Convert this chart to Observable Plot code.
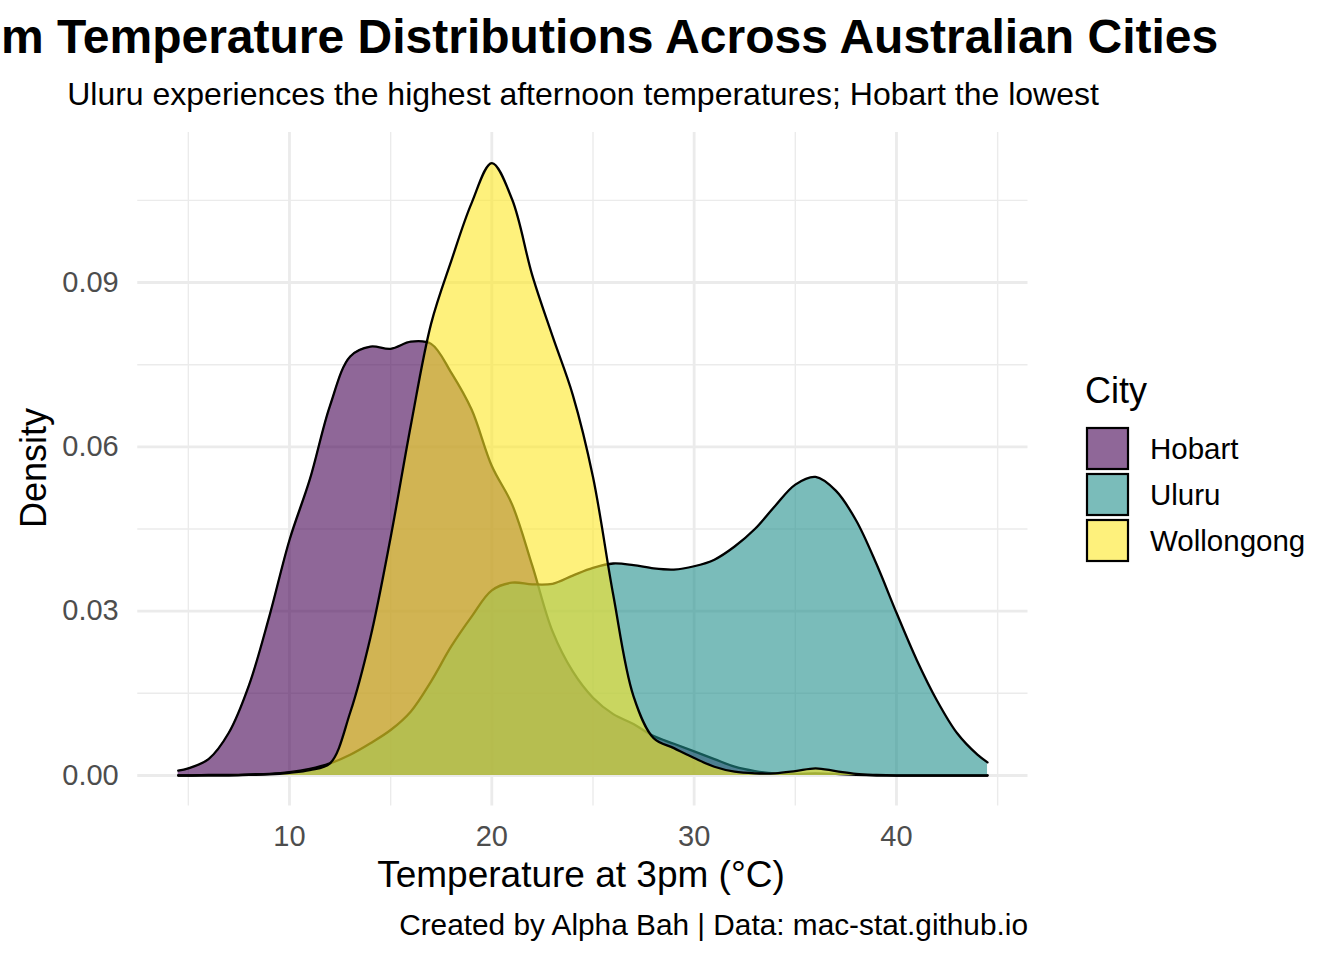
<!DOCTYPE html>
<html><head><meta charset="utf-8">
<script src="https://cdn.jsdelivr.net/npm/d3@7"></script>
<script src="https://cdn.jsdelivr.net/npm/@observablehq/plot@0.6"></script>
<style>
body{margin:0;background:#fff;}
#wrap{position:relative;width:1344px;height:960px;overflow:hidden;background:#fff;}
#wrap svg{position:absolute;left:0;top:0;}
</style></head><body><div id="wrap"></div>
<script>
// ---- data ----
const temps = [4.5,5,6,7,8,9,10,11,12,13,14,15,16,17,18,19,20,21,22,23,24,25,26,27,28,29,30,31,32,33,34,35,36,37,38,39,40,41,42,43,44,44.5];
const hobart = [0.0009,0.0013,0.0030,0.0078,0.0165,0.0290,0.0430,0.0540,0.0675,0.0765,0.0783,0.0779,0.0792,0.0788,0.0735,0.0668,0.0565,0.0495,0.0383,0.0263,0.0190,0.0142,0.0112,0.0094,0.0072,0.0058,0.0044,0.0030,0.0016,0.0008,0.0004,0.0003,0.0004,0.0003,0.0001,0,0,0,0,0,0,0];
const uluru = [0,0,0.0001,0.0001,0.0002,0.0003,0.0006,0.0012,0.0022,0.0038,0.0059,0.0083,0.0117,0.0172,0.0236,0.0290,0.0338,0.0352,0.0349,0.0350,0.0365,0.0379,0.0387,0.0384,0.0378,0.0376,0.0382,0.0394,0.0418,0.0450,0.0492,0.0531,0.0545,0.0520,0.0466,0.0387,0.0297,0.0211,0.0137,0.0077,0.0038,0.0024];
const wollongong = [0,0,0,0,0.0001,0.0002,0.0005,0.0010,0.0022,0.0115,0.0252,0.0435,0.0640,0.0825,0.0940,0.1045,0.1118,0.1052,0.0913,0.0802,0.0695,0.0545,0.0330,0.0145,0.0068,0.0050,0.0032,0.0016,0.0007,0.0004,0.0004,0.0008,0.0013,0.0008,0.0003,0.0001,0,0,0,0,0,0];
const cities = ["Hobart","Uluru","Wollongong"];
const cityColors = ["#440154","#21908C","#FDE725"];
const xTicks = [10,20,30,40];
const xMinor = [5,15,25,35,45];
const yTicks = [0,0.03,0.06,0.09];
const yMinor = [0.015,0.045,0.075,0.105];

const series = {Hobart: hobart, Uluru: uluru, Wollongong: wollongong};
const rows = cities.flatMap(c => temps.map((t,i) => ({city:c, temp:t, density:series[c][i]})));

const W = 1344, H = 960;
const font = '"Liberation Sans", Arial, Helvetica, sans-serif';
const alpha = 0.6;
const grid = "#EBEBEB";

const cityMarks = cities.flatMap((c,i) => {
  const d = rows.filter(r => r.city === c);
  return [
    Plot.areaY(d, {x:"temp", y:"density", fill: cityColors[i], fillOpacity: alpha, curve:"catmull-rom"}),
    Plot.lineY(d, {x:"temp", y:"density", stroke:"black", strokeWidth:2.3, curve:"catmull-rom"})
  ];
});

const chart = Plot.plot({
  width: W, height: H,
  marginTop: 132, marginBottom: 154.4, marginLeft: 137.25, marginRight: 316.5,
  style: {fontFamily: font, background:"transparent"},
  x: {domain:[2.5,46.5]},
  y: {domain:[-0.00559,0.11739]},
  marks: [
    Plot.gridX(xMinor, {stroke:grid, strokeOpacity:1, strokeWidth:1.4}),
    Plot.gridY(yMinor, {stroke:grid, strokeOpacity:1, strokeWidth:1.4}),
    Plot.gridX(xTicks, {stroke:grid, strokeOpacity:1, strokeWidth:2.8}),
    Plot.gridY(yTicks, {stroke:grid, strokeOpacity:1, strokeWidth:2.8}),
    ...cityMarks,
    Plot.axisX(xTicks, {tickSize:0, tickPadding:19, fontSize:29, fill:"#4D4D4D", label:null}),
    Plot.axisY(yTicks, {tickSize:0, tickPadding:19, fontSize:29, fill:"#4D4D4D", label:null, tickFormat:d3.format(".2f")})
  ]
});
const wrap = document.getElementById("wrap");
wrap.appendChild(chart);

// ---- text overlay: titles, axis titles, caption, legend ----
const svg = d3.select(wrap).append("svg").attr("width",W).attr("height",H)
  .style("font-family", font).style("pointer-events","none");
// the reference shows the title starting at the left edge with "m Temperature ..."
svg.append("text").attr("x",1).attr("y",53).attr("text-anchor","start")
  .attr("font-size",48).attr("font-weight","bold").attr("fill","#000")
  .text("m Temperature Distributions Across Australian Cities");
svg.append("text").attr("x",583).attr("y",105).attr("text-anchor","middle")
  .attr("font-size",32).attr("fill","#000")
  .text("Uluru experiences the highest afternoon temperatures; Hobart the lowest");
svg.append("text").attr("x",581).attr("y",887).attr("text-anchor","middle")
  .attr("font-size",37).attr("fill","#000").text("Temperature at 3pm (°C)");
svg.append("text").attr("transform","translate(46,468) rotate(-90)").attr("text-anchor","middle")
  .attr("font-size",36).attr("fill","#000").text("Density");
svg.append("text").attr("x",1028).attr("y",935).attr("text-anchor","end")
  .attr("font-size",29.8).attr("fill","#000").text("Created by Alpha Bah | Data: mac-stat.github.io");
// legend
svg.append("text").attr("x",1085).attr("y",403).attr("font-size",36).attr("fill","#000").text("City");
cities.forEach((c,i) => {
  const y0 = 428 + i*46;
  svg.append("rect").attr("x",1087).attr("y",y0).attr("width",41).attr("height",41)
    .attr("fill",cityColors[i]).attr("fill-opacity",alpha).attr("stroke","#000").attr("stroke-width",2.2);
  svg.append("text").attr("x",1150).attr("y",y0+31).attr("font-size",29.5).attr("fill","#000").text(c);
});
</script></body></html>
